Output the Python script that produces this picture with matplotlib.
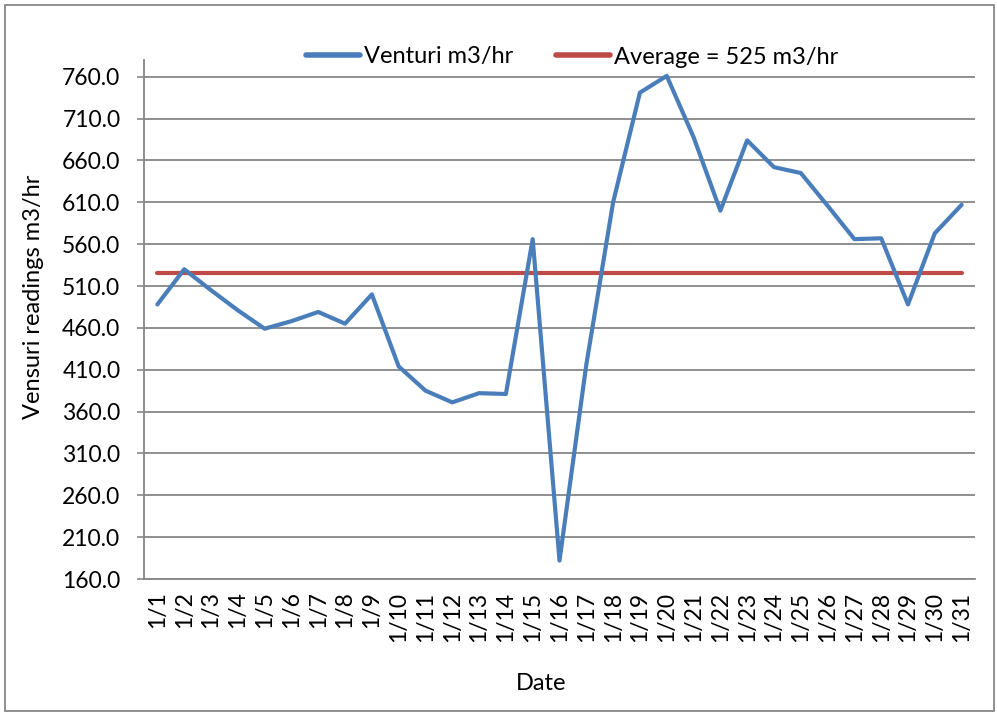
"""
Venturi flow readings for January vs the monthly average
"""

import matplotlib
matplotlib.use("Agg")
import matplotlib.pyplot as plt
from matplotlib.patches import Rectangle

plt.rcParams['font.family'] = ['Lato', 'DejaVu Sans']

dates = ["1/%d" % d for d in range(1, 32)]
venturi = [488, 530, 505, 481, 459, 468, 479, 465, 500, 414,
           385, 371, 382, 381, 566, 182, 416, 610, 741, 761,
           688, 600, 684, 652, 645, 606, 566, 567, 488, 573, 607]
average = [525] * len(dates)
yticks = [160 + 50 * i for i in range(13)]

blue = "#4a7ebb"
red = "#be4b48"
grey = "#868686"
fs = 17

fig = plt.figure(figsize=(9.97, 7.15), dpi=100)
ax = fig.add_axes([144 / 997, 1 - 579 / 715, (975 - 144) / 997, (579 - 60) / 715])

x = list(range(1, len(dates) + 1))
ax.plot(x, venturi, color=blue, lw=3, solid_capstyle='round',
        solid_joinstyle='round', label="Venturi m3/hr", zorder=3)
ax.plot(x, average, color=red, lw=3, solid_capstyle='round',
        label="Average = 525 m3/hr", zorder=2)

ax.set_xlim(0.5, len(dates) + 0.5)
ax.set_ylim(160, 780)
ax.set_yticks(yticks)
ax.set_yticklabels(["%.1f" % v for v in yticks], fontsize=16.5)
ax.set_xticks(x)
ax.set_xticklabels(dates, rotation=90, fontsize=16.5)
ax.tick_params(axis='y', direction='out', length=5, width=1.2, color=grey, pad=12)
ax.tick_params(axis='x', length=0, pad=9)

ax.grid(axis='y', color=grey, lw=1.3)
ax.set_axisbelow(True)
for s in ['top', 'right']:
    ax.spines[s].set_visible(False)
for s in ['left', 'bottom']:
    ax.spines[s].set_color(grey)
    ax.spines[s].set_linewidth(1.3)

leg = fig.legend(loc='center', bbox_to_anchor=(572 / 997, 1 - 57 / 715), ncol=2,
                 frameon=False, fontsize=fs, handlelength=2.3, handletextpad=0.15,
                 columnspacing=1.8)
for h in leg.get_lines():
    h.set_linewidth(4)

fig.text(33 / 997, 1 - 297 / 715, "Vensuri readings m3/hr", rotation=90,
         ha='center', va='center', fontsize=fs)
fig.text(541 / 997, 1 - 684 / 715, "Date", ha='center', va='center', fontsize=fs)

fig.patches.append(Rectangle((5 / 997, 4 / 715), 989 / 997, 706 / 715,
                             transform=fig.transFigure, fill=False,
                             edgecolor=grey, lw=1.3))

fig.savefig("out.png", dpi=100)
